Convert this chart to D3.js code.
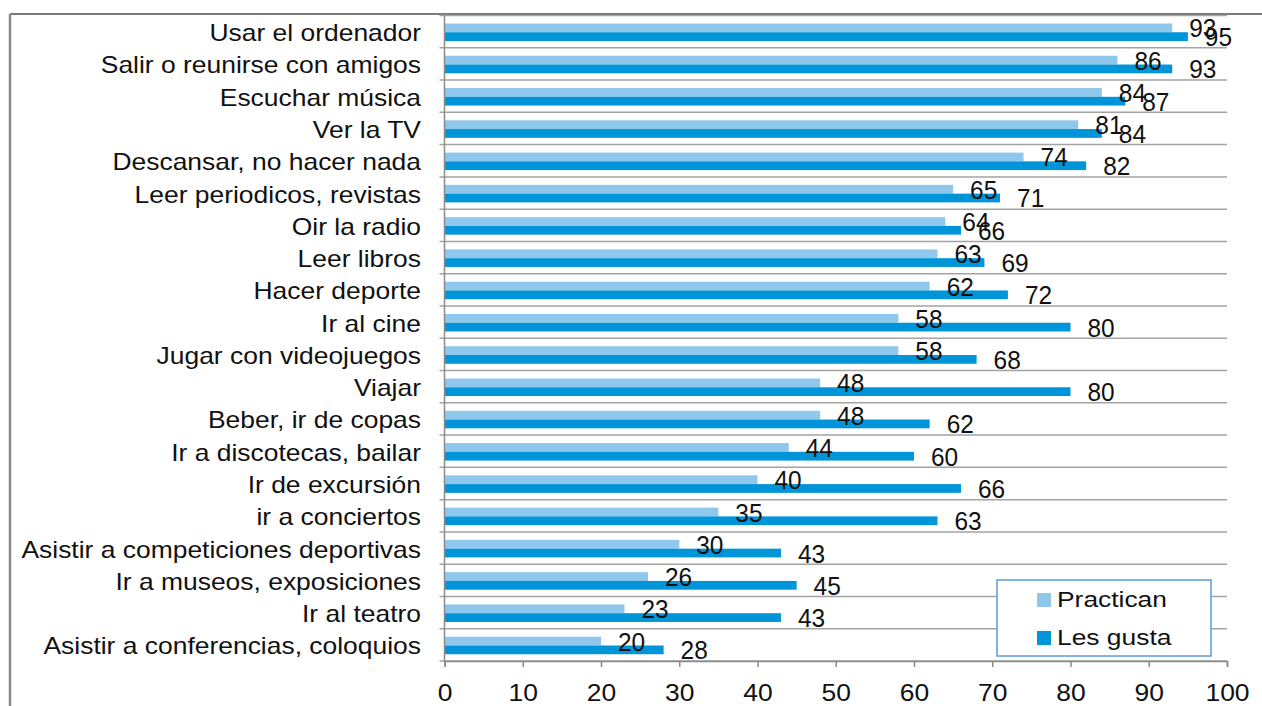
<!DOCTYPE html>
<html>
<head>
<meta charset="utf-8">
<script src="https://cdn.jsdelivr.net/npm/d3@7"></script>
<style>
  html, body { margin: 0; padding: 0; background: #fff; }
  svg { display: block; }
  text { font-family: "Liberation Sans", Arial, sans-serif; fill: #111; }
</style>
</head>
<body>
<svg id="chart" width="1262" height="706"></svg>
<script>
const categories = [
  "Usar el ordenador", "Salir o reunirse con amigos", "Escuchar música", "Ver la TV",
  "Descansar, no hacer nada", "Leer periodicos, revistas", "Oir la radio", "Leer libros",
  "Hacer deporte", "Ir al cine", "Jugar con videojuegos", "Viajar", "Beber, ir de copas",
  "Ir a discotecas, bailar", "Ir de excursión", "ir a conciertos",
  "Asistir a competiciones deportivas", "Ir a museos, exposiciones", "Ir al teatro",
  "Asistir a conferencias, coloquios"
];
const practican = [93, 86, 84, 81, 74, 65, 64, 63, 62, 58, 58, 48, 48, 44, 40, 35, 30, 26, 23, 20];
const lesGusta  = [95, 93, 87, 84, 82, 71, 66, 69, 72, 80, 68, 80, 62, 60, 66, 63, 43, 45, 43, 28];
const seriesNames = ["Practican", "Les gusta"];
const xTicks = [0, 10, 20, 30, 40, 50, 60, 70, 80, 90, 100];

const colors = { "Practican": "#8fc8ec", "Les gusta": "#0094d8" };
const svg = d3.select("#chart");

const x = d3.scaleLinear().domain([0, 100]).range([444.5, 1227]);
const y = d3.scaleBand().domain(categories).range([15.5, 661]).padding(0);
const ySub = d3.scaleBand().domain(seriesNames).range([8, 25.5]).padding(0);

// outer frame
svg.append("line").attr("x1", 10).attr("x2", 1262).attr("y1", 14).attr("y2", 14)
  .attr("stroke", "#7a7a7a").attr("stroke-width", 2);
svg.append("line").attr("x1", 10).attr("x2", 10).attr("y1", 14).attr("y2", 706)
  .attr("stroke", "#8a8a8a").attr("stroke-width", 2.5);

// gridlines at band boundaries
const bounds = categories.map(c => y(c)).concat([y.range()[1]]);
svg.append("g").selectAll("line").data(bounds).join("line")
  .attr("x1", x(0) - 5).attr("x2", x(100))
  .attr("y1", d => d).attr("y2", d => d)
  .attr("stroke", "#a3a3a3").attr("stroke-width", 1.5);

// bars
const rows = categories.map((c, i) => ({ cat: c, vals: [
  { s: "Practican", v: practican[i] }, { s: "Les gusta", v: lesGusta[i] } ] }));

const g = svg.append("g").selectAll("g").data(rows).join("g")
  .attr("transform", d => `translate(0,${y(d.cat)})`);
g.selectAll("rect").data(d => d.vals).join("rect")
  .attr("x", x(0)).attr("y", d => ySub(d.s))
  .attr("width", d => x(d.v) - x(0)).attr("height", ySub.bandwidth())
  .attr("fill", d => colors[d.s]);
g.selectAll("text.val").data(d => d.vals).join("text")
  .attr("class", "val")
  .attr("x", d => x(d.v) + 17)
  .attr("y", d => ySub(d.s) + ySub.bandwidth() / 2 + 9.5)
  .attr("font-size", 26)
  .attr("transform", d => `translate(${x(d.v) + 17},0) scale(0.94,1) translate(${-(x(d.v) + 17)},0)`)
  .text(d => d.v);

// axis lines
svg.append("line").attr("x1", x(0)).attr("x2", x(0)).attr("y1", 15.5).attr("y2", 661)
  .attr("stroke", "#8a8a8a").attr("stroke-width", 1.5);

const xAxis = svg.append("g").attr("transform", "translate(0,661)")
  .call(d3.axisBottom(x).tickValues(xTicks).tickSize(6).tickPadding(17));
xAxis.select(".domain").attr("stroke", "#8a8a8a").attr("stroke-width", 1.5);
xAxis.selectAll(".tick line").attr("stroke", "#8a8a8a").attr("stroke-width", 1.5);
xAxis.selectAll(".tick text")
  .attr("font-size", 23).attr("font-family", "Liberation Sans, Arial, sans-serif")
  .attr("fill", "#111").attr("dy", null).attr("y", 40)
  .attr("transform", "scale(1.15,1)");

// category labels
const lab = svg.append("g");
lab.selectAll("text").data(categories).join("text")
  .attr("text-anchor", "end")
  .attr("font-size", 23)
  .attr("transform", d => `translate(421,${y(d) + y.bandwidth() / 2 + 9.5}) scale(1.15,1)`)
  .text(d => d);

// legend
const lg = svg.append("g");
lg.append("rect").attr("x", 997).attr("y", 580).attr("width", 214).attr("height", 76)
  .attr("fill", "#fff").attr("stroke", "#5b9bd5").attr("stroke-width", 1.5);
const li = lg.selectAll("g").data(seriesNames).join("g")
  .attr("transform", (d, i) => `translate(1037,${593 + i * 38})`);
li.append("rect").attr("width", 14).attr("height", 14).attr("fill", d => colors[d]);
li.append("text").attr("font-size", 22)
  .attr("transform", "translate(20,14) scale(1.2,1)")
  .text(d => d);
</script>
</body>
</html>
